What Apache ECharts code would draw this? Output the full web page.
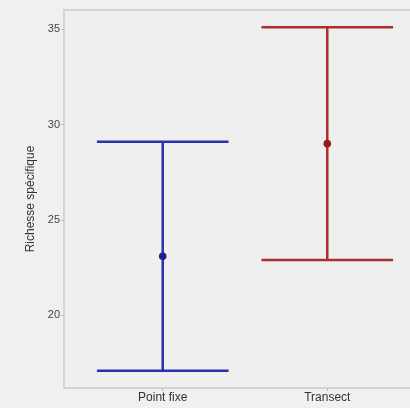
<!DOCTYPE html>
<html><head><meta charset="utf-8">
<script src="https://cdn.jsdelivr.net/npm/echarts@6/dist/echarts.min.js"></script>
<style>html,body{margin:0;padding:0;background:#f0f0f0;overflow:hidden;}#c{width:428px;height:408px;}</style>
</head><body><div id="c"></div>
<script>
const categories = ['Point fixe', 'Transect'];
const means = [23.1, 29.0];
const lows = [17.1, 22.9];
const highs = [29.1, 35.1];
const lineColors = ['#2a33ad', '#ad2e2e'];
const pointColors = ['#1c2190', '#951b1b'];
const yTicks = [20, 25, 30, 35];
const xPos = [1, 2];

const chart = echarts.init(document.getElementById('c'));
const data = categories.map((c, i) => [xPos[i], lows[i], highs[i], means[i], i]);
chart.setOption({
  backgroundColor: '#f0f0f0',
  animation: false,
  grid: { left: 64, right: 2, top: 10, bottom: 20, show: true, borderColor: '#d4d4d4', borderWidth: 2, backgroundColor: '#efefef' },
  xAxis: {
    type: 'value', min: 0.4, max: 2.6,
    axisLine: { show: false },
    splitLine: { show: false },
    axisTick: { show: true, customValues: xPos, length: 3, lineStyle: { color: '#bbb' } },
    axisLabel: { customValues: xPos, formatter: v => categories[Math.round(v) - 1] || '', color: '#333', fontSize: 12, fontFamily: 'Liberation Sans', margin: 4 }
  },
  yAxis: {
    type: 'value', min: 16.2, max: 36.0,
    name: 'Richesse spécifique', nameLocation: 'middle', nameGap: 20,
    nameTextStyle: { color: '#333', fontSize: 12, fontFamily: 'Liberation Sans' },
    axisLine: { show: false },
    splitLine: { show: false },
    axisTick: { show: true, customValues: yTicks, length: 3, lineStyle: { color: '#bbb' } },
    axisLabel: { customValues: yTicks, color: '#444', fontSize: 11, fontFamily: 'Liberation Sans', margin: 4 }
  },
  series: [{
    type: 'custom',
    data: data,
    renderItem: function (params, api) {
      const x = api.value(0), lo = api.value(1), hi = api.value(2), m = api.value(3), i = api.value(4);
      const pLo = api.coord([x, lo]), pHi = api.coord([x, hi]), pM = api.coord([x, m]);
      const l = api.coord([x - 0.4, lo])[0], r = api.coord([x + 0.4, lo])[0];
      const st = { stroke: lineColors[i], lineWidth: 2.5 };
      return { type: 'group', children: [
        { type: 'line', shape: { x1: pLo[0], y1: pLo[1], x2: pHi[0], y2: pHi[1] }, style: st },
        { type: 'line', shape: { x1: l, y1: pLo[1], x2: r, y2: pLo[1] }, style: st },
        { type: 'line', shape: { x1: l, y1: pHi[1], x2: r, y2: pHi[1] }, style: st },
        { type: 'circle', shape: { cx: pM[0], cy: pM[1], r: 3.8 }, style: { fill: pointColors[i] } }
      ]};
    }
  }]
});
</script></body></html>
